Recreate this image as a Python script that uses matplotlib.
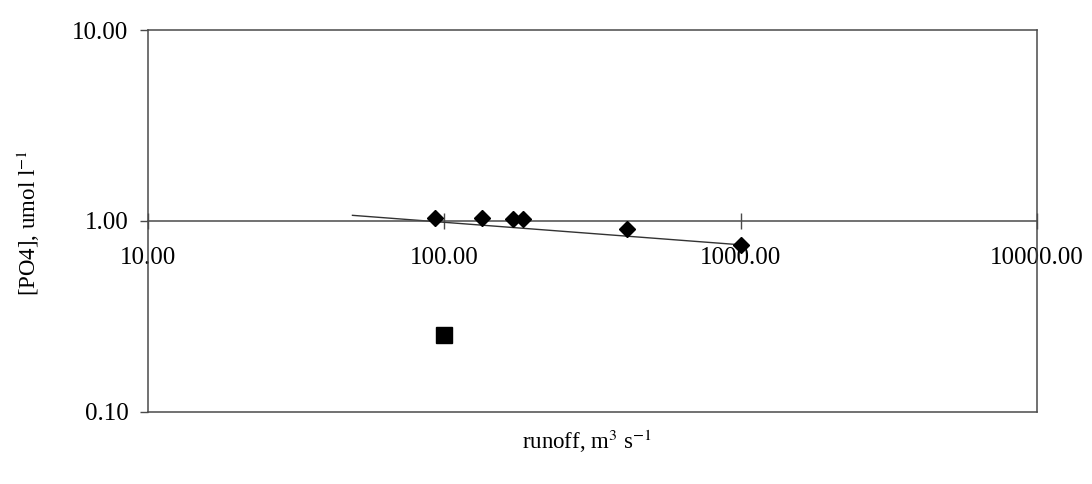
import matplotlib.pyplot as plt
from matplotlib.ticker import FixedLocator, FuncFormatter, NullLocator

# values
runoff = [93, 134, 171, 184, 415, 1000]
po4 = [1.036, 1.036, 1.02, 1.02, 0.91, 0.75]
runoff_sq = [100]
po4_sq = [0.253]
# power trendline as drawn (start / end)
trend_x = [49, 1000]
trend_y = [1.07, 0.75]

plt.rcParams["font.family"] = ["Liberation Serif", "DejaVu Serif"]
plt.rcParams["mathtext.fontset"] = "stix"
frame_col = "#4a4a4a"

fig = plt.figure(figsize=(10.92, 4.84), dpi=100)
ax = fig.add_axes([0.1355, 0.149, 0.814, 0.789])

ax.set_xscale("log")
ax.set_yscale("log")
ax.set_xlim(10, 10000)
ax.set_ylim(0.1, 10)

ax.plot(trend_x, trend_y, color="#333333", lw=1.0, zorder=2)
ax.plot(runoff, po4, "D", color="black", markersize=8.5, zorder=3)
ax.plot(runoff_sq, po4_sq, "s", color="black", markersize=11, zorder=3)

for s in ax.spines.values():
    s.set_color(frame_col)
    s.set_linewidth(1.1)

# x axis crosses at y = 1, box still closed at the bottom
ax.spines["bottom"].set_position(("data", 1))
ax.plot([0, 1], [0, 0], transform=ax.transAxes, color=frame_col, lw=1.1,
        clip_on=False, zorder=1)

ax.xaxis.set_major_locator(FixedLocator([10, 100, 1000, 10000]))
ax.xaxis.set_minor_locator(NullLocator())
ax.xaxis.set_major_formatter(FuncFormatter(lambda v, p: f"{v:.2f}"))
ax.tick_params(axis="x", direction="inout", length=12, width=1.0,
               color=frame_col, labelsize=18, pad=13)

ax.yaxis.set_major_locator(FixedLocator([0.1, 1, 10]))
ax.yaxis.set_minor_locator(NullLocator())
ax.yaxis.set_major_formatter(FuncFormatter(lambda v, p: f"{v:.2f}"))
ax.tick_params(axis="y", direction="out", length=6, width=1.0,
               color=frame_col, labelsize=18, pad=8)

fig.text(28 / 1092, 0.54, "[PO4], umol l$^{-1}$", rotation=90,
         ha="center", va="center", fontsize=16.5)
fig.text(0.538, 0.087, "runoff, m$^{3}$ s$^{-1}$", ha="center", va="center",
         fontsize=16.5)

fig.savefig("out.png", dpi=100, facecolor="white")
